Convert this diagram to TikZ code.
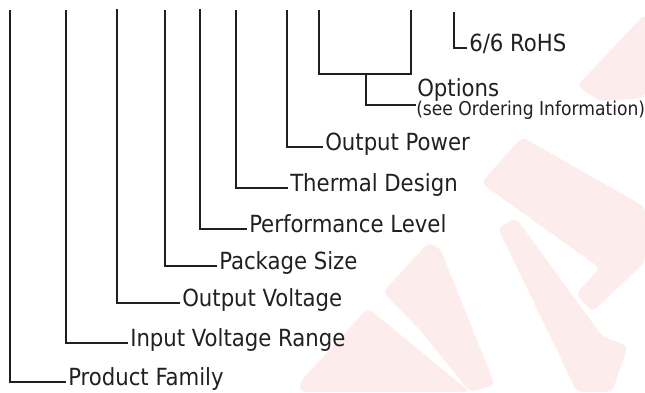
\documentclass[tikz,border=0pt]{standalone}
\usepackage{fontspec}
\setmainfont{DejaVu Sans Condensed}
\usetikzlibrary{positioning}

\definecolor{inkgray}{RGB}{35,31,32}
\definecolor{marksred}{RGB}{253,236,236}

\tikzset{
	leader/.style={draw=inkgray, line width=1.8pt, line cap=butt, line join=miter},
	thinleader/.style={draw=inkgray, line width=0.8pt},
	partname/.style={anchor=mid west, inner sep=1.5pt, text=inkgray, font=\fontsize{17.7pt}{20pt}\selectfont},
	partnote/.style={anchor=base west, inner sep=1.5pt, text=inkgray, font=\fontsize{14.3pt}{16pt}\selectfont},
	watermark/.style={fill=marksred, draw=none, rounded corners=4pt}
}

\begin{document}
\begin{tikzpicture}[x=0.75pt,y=0.75pt,yscale=-1,xscale=1]
\useasboundingbox (0,0) rectangle (645,392);

%Shape: Polygon [id:wm1]
\path [watermark] (577,86) -- (645,14) -- (645,98) -- (600,101) -- cycle;
%Shape: Polygon [id:wm2]
\path [watermark] (481,183) -- (522,137) -- (645,207) -- (645,262) -- (592,312) -- (576,294) -- (600,268) -- cycle;
%Shape: Polygon [id:wm3]
\path [watermark] (498,228) -- (516,218) -- (602,336) -- (628,346) -- (612,392) -- (577,392) -- cycle;
%Shape: Polygon [id:wm4]
\path [watermark] (383,292) -- (428,243) -- (440,248) -- (495,385) -- (470,392) -- (420,330) -- cycle;
%Shape: Polygon [id:wm5]
\path [watermark] (300,382) -- (368,308) -- (380,318) -- (470,392) -- (300,392) -- cycle;

% Text Node
\node [partname] (family) at (66,382) {Product Family};
% Text Node
\node [partname] (vin) at (128,343) {Input Voltage Range};
% Text Node
\node [partname] (vout) at (180,303) {Output Voltage};
% Text Node
\node [partname] (pkg) at (217,266) {Package Size};
% Text Node
\node [partname] (perf) at (247,229) {Performance Level};
% Text Node
\node [partname] (therm) at (288,188) {Thermal Design};
% Text Node
\node [partname] (power) at (323,147) {Output Power};
% Text Node
\node [partname, anchor=base west] (opts) at (415,97) {Options};
% Text Node
\node [partnote] (optsnote) at (414,116) {(see Ordering Information)};
% Text Node
\node [partname] (rohs) at (467,48) {6/6 RoHS};

% top ends of the leaders
\coordinate (tfamily) at (10,10);
\coordinate (tvin) at (66,10);
\coordinate (tvout) at (117,9);
\coordinate (tpkg) at (165,10);
\coordinate (tperf) at (200,9);
\coordinate (ttherm) at (236,10);
\coordinate (tpower) at (287,10);
\coordinate (toptA) at (319,10);
\coordinate (toptB) at (411,10);
\coordinate (toptjoin) at (366,74);
\coordinate (optsend) at (416,105);
\coordinate (trohs) at (454,12);

% Leaders
\draw [leader] (tfamily) |- (family.mid west);
\draw [leader] (tvin) |- (vin.mid west);
\draw [leader] (tvout) |- (vout.mid west);
\draw [leader] (tpkg) |- (pkg.mid west);
\draw [leader] (tperf) |- (perf.mid west);
\draw [leader] (ttherm) |- (therm.mid west);
\draw [leader] (tpower) |- (power.mid west);
% Options bracket
\draw [leader] (toptA) |- (toptjoin) -| (toptB);
\draw [leader] (toptjoin) |- (optsend);
\draw [thinleader] (trohs) |- (rohs.mid west);

\end{tikzpicture}
\end{document}
